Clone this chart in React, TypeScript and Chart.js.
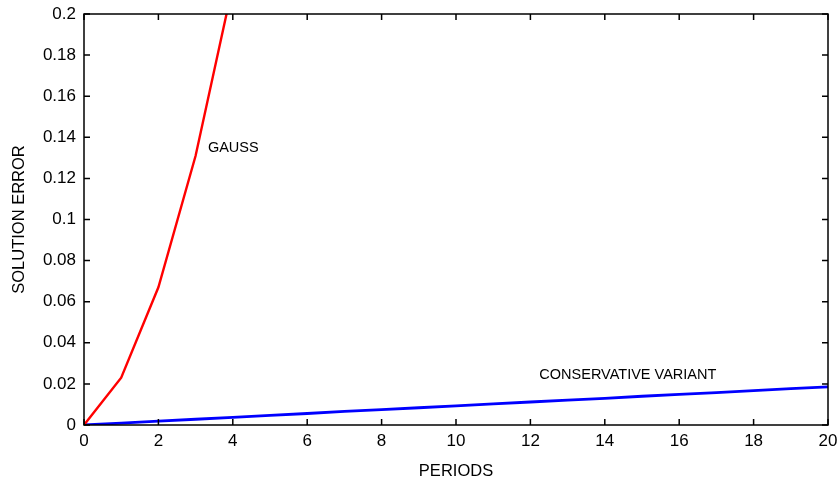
import React, { useEffect, useRef } from "react";
import { Chart, registerables } from "chart.js";

Chart.register(...registerables);

// ---- data ----
const periods = [0, 1, 2, 3, 4, 5, 6, 7, 8, 9, 10, 11, 12, 13, 14, 15, 16, 17, 18, 19, 20];
const gaussPeriods = [0, 1, 2, 3, 4, 5];
const gaussError = [0, 0.023, 0.067, 0.131, 0.214, 0.31];
const conservativeError = [
  0, 0.0009, 0.0019, 0.0028, 0.0037, 0.0047, 0.0056, 0.0066, 0.0075, 0.0084, 0.0093,
  0.0103, 0.0112, 0.0121, 0.013, 0.014, 0.0149, 0.0158, 0.0167, 0.0177, 0.0186,
];
const xTickValues = [0, 2, 4, 6, 8, 10, 12, 14, 16, 18, 20];
const yTickValues = [0, 0.02, 0.04, 0.06, 0.08, 0.1, 0.12, 0.14, 0.16, 0.18, 0.2];
const seriesLabels = ["GAUSS", "CONSERVATIVE VARIANT"];
// label anchor points (data coordinates: left edge, vertical middle)
const labelPositions = [
  { x: 3.33, y: 0.1346 },
  { x: 12.24, y: 0.0243 },
];
const axisTitles = { x: "PERIODS", y: "SOLUTION ERROR" };

const FONT = "'Liberation Sans', Arial, Helvetica, sans-serif";

const framePlugin = {
  id: "gnuplotFrame",
  afterDatasetsDraw(chart: any) {
    const { ctx, chartArea } = chart;
    const xs = chart.scales.x;
    const ys = chart.scales.y;
    const { left, right, top, bottom } = chartArea;
    const tl = 6;
    ctx.save();
    ctx.strokeStyle = "#000";
    ctx.lineWidth = 1.5;
    ctx.beginPath();
    xTickValues.forEach((v) => {
      const px = xs.getPixelForValue(v);
      ctx.moveTo(px, bottom);
      ctx.lineTo(px, bottom - tl);
      ctx.moveTo(px, top);
      ctx.lineTo(px, top + tl);
    });
    yTickValues.forEach((v) => {
      const py = ys.getPixelForValue(v);
      ctx.moveTo(left, py);
      ctx.lineTo(left + tl, py);
      ctx.moveTo(right, py);
      ctx.lineTo(right - tl, py);
    });
    ctx.stroke();
    ctx.lineWidth = 1.5;
    ctx.strokeRect(left, top, right - left, bottom - top);

    ctx.fillStyle = "#000";
    ctx.font = `14.5px ${FONT}`;
    ctx.textAlign = "left";
    ctx.textBaseline = "middle";
    seriesLabels.forEach((t, i) => {
      ctx.fillText(t, xs.getPixelForValue(labelPositions[i].x), ys.getPixelForValue(labelPositions[i].y));
    });
    ctx.restore();
  },
};

export default function App() {
  const ref = useRef<HTMLCanvasElement | null>(null);
  useEffect(() => {
    if (!ref.current) return;
    const chart = new Chart(ref.current, {
      type: "line",
      data: {
        datasets: [
          {
            label: seriesLabels[0],
            data: gaussPeriods.map((p, i) => ({ x: p, y: gaussError[i] })),
            borderColor: "#ff0000",
            borderWidth: 2.4,
            pointRadius: 0,
            tension: 0,
          },
          {
            label: seriesLabels[1],
            data: periods.map((p, i) => ({ x: p, y: conservativeError[i] })),
            borderColor: "#0000ff",
            borderWidth: 2.8,
            pointRadius: 0,
            tension: 0,
          },
        ],
      },
      options: {
        animation: false,
        responsive: false,
        layout: { padding: { top: 14, right: 9, left: 0, bottom: 0 } },
        plugins: { legend: { display: false }, tooltip: { enabled: false } },
        scales: {
          x: {
            type: "linear",
            min: 0,
            max: 20,
            afterBuildTicks: (s: any) => {
              s.ticks = xTickValues.map((v) => ({ value: v }));
            },
            afterFit: (s: any) => {
              s.height = 56;
              s.paddingLeft = 0;
              s.paddingRight = 0;
            },
            grid: { display: false, drawTicks: false },
            border: { display: false },
            ticks: {
              padding: 6,
              color: "#000",
              font: { family: FONT, size: 17 },
              maxRotation: 0,
              callback: (v: any) => String(v),
            },
            title: {
              display: true,
              text: axisTitles.x,
              color: "#000",
              font: { family: FONT, size: 16.5 },
              padding: { top: 0, bottom: 0 },
            },
          },
          y: {
            type: "linear",
            min: 0,
            max: 0.2,
            afterBuildTicks: (s: any) => {
              s.ticks = yTickValues.map((v) => ({ value: v }));
            },
            afterFit: (s: any) => {
              s.width = 84;
              s.paddingTop = 0;
              s.paddingBottom = 0;
            },
            grid: { display: false, drawTicks: false },
            border: { display: false },
            ticks: {
              padding: 8,
              color: "#000",
              font: { family: FONT, size: 17 },
              callback: (v: any) => String(Number(Number(v).toFixed(2))),
            },
            title: {
              display: true,
              text: axisTitles.y,
              color: "#000",
              font: { family: FONT, size: 16.5 },
              padding: { top: 10, bottom: 0 },
            },
          },
        },
      },
      plugins: [framePlugin],
    } as any);
    return () => chart.destroy();
  }, []);
  return (
    <div style={{ position: "fixed", left: 0, top: 0, width: 837, height: 481, background: "#fff" }}>
      <canvas ref={ref} width={837} height={481} style={{ width: 837, height: 481 }} />
    </div>
  );
}
